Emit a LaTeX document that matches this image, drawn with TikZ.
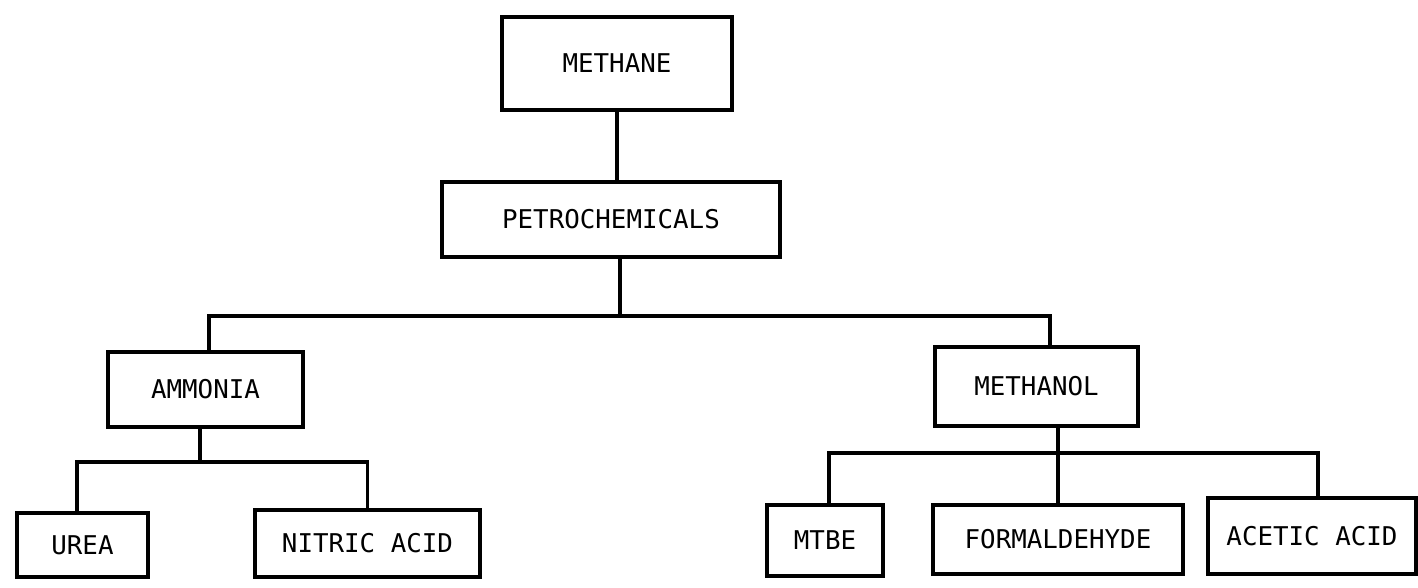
\documentclass[tikz,border=0pt]{standalone}
\usepackage{fontspec}
\usepackage{tikz}
\newfontfamily\chemfont{DejaVu Sans Mono}
\tikzset{chembox/.style={draw=black, line width=2pt, inner sep=0pt,
    font=\chemfont\fontsize{14.7}{16}\selectfont},
  link/.style={draw=black, line width=2pt}}

\begin{document}
\begin{tikzpicture}
\useasboundingbox (0,0) rectangle (28.36,-11.76);
%% top of the tree
\node [chembox, minimum width=4.6cm, minimum height=1.86cm] (methane) at (12.34,-1.27) {METHANE};
\node [chembox, minimum width=6.76cm, minimum height=1.5cm] (petro) at (12.22,-4.39) {PETROCHEMICALS};
%% second level
\node [chembox, minimum width=3.9cm, minimum height=1.5cm] (ammonia) at (4.11,-7.79) {AMMONIA};
\node [chembox, minimum width=4.06cm, minimum height=1.58cm] (methanol) at (20.73,-7.73) {METHANOL};
%% products
\node [chembox, minimum width=2.62cm, minimum height=1.28cm] (urea) at (1.65,-10.9) {UREA};
\node [chembox, minimum width=4.5cm, minimum height=1.34cm] (nitric) at (7.35,-10.87) {NITRIC ACID};
\node [chembox, minimum width=2.32cm, minimum height=1.42cm] (mtbe) at (16.5,-10.81) {MTBE};
\node [chembox, minimum width=5cm, minimum height=1.38cm] (formal) at (21.16,-10.79) {FORMALDEHYDE};
\node [chembox, minimum width=4.16cm, minimum height=1.52cm] (acetic) at (26.24,-10.72) {ACETIC ACID};
%% branch points
\coordinate (split) at (12.4,-6.32);
\coordinate (amsplit) at (4.0,-9.24);
\coordinate (mesplit) at (21.12,-9.06);
%% links
\draw [link] (methane.south) -- (methane.south |- petro.north);
\draw [link] (split |- petro.south) -- (split);
\draw [link] ([xshift=0.07cm]ammonia.north) |- (split) -| ([xshift=0.27cm]methanol.north);
\draw [link] (ammonia.south -| amsplit) -- (amsplit);
\draw [link] ([xshift=-0.11cm]urea.north) |- (amsplit) -| (nitric.north);
\draw [link] (methanol.south -| formal.north) -- (formal.north);
\draw [link] ([xshift=0.08cm]mtbe.north) |- (mesplit) -| ([xshift=0.12cm]acetic.north);
\end{tikzpicture}
\end{document}
